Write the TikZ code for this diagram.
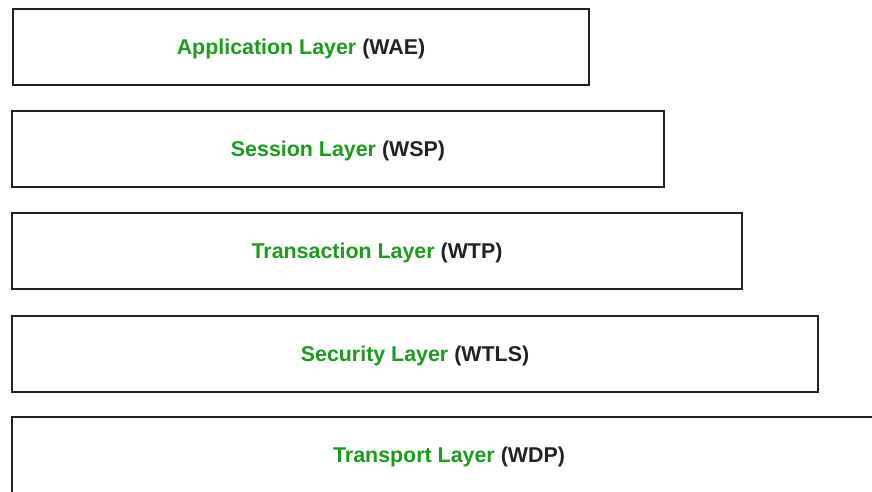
\documentclass[tikz,border=0pt]{standalone}
\usepackage{fontspec}
\setmainfont{Liberation Sans}
\definecolor{layergreen}{RGB}{28,155,28}
\definecolor{framegray}{RGB}{34,34,34}
\begin{document}
\begin{tikzpicture}[x=1pt,y=-1pt,
  layerbox/.style={draw=framegray,line width=1.7pt,fill=white,minimum height=76pt,
    inner sep=0pt,outer sep=0pt,text height=15pt,text depth=0pt,
    font=\fontsize{21.4}{25}\selectfont\bfseries,text=framegray}]
\useasboundingbox (0,0) rectangle (872,491);
\clip (0,0) rectangle (872,491);
\fill[white] (0,0) rectangle (872,491);
\node[layerbox,minimum width=576pt] (app) at (301,47) {\textcolor{layergreen}{Application Layer} (WAE)};
\node[layerbox,minimum width=652pt] (ses) at (338,149) {\textcolor{layergreen}{Session Layer} (WSP)};
\node[layerbox,minimum width=730pt] (tra) at (377,251) {\textcolor{layergreen}{Transaction Layer} (WTP)};
\node[layerbox,minimum width=806pt] (sec) at (415,354) {\textcolor{layergreen}{Security Layer} (WTLS)};
\node[layerbox,minimum width=874pt] (tsp) at (449,455) {\textcolor{layergreen}{Transport Layer} (WDP)};
\end{tikzpicture}
\end{document}
